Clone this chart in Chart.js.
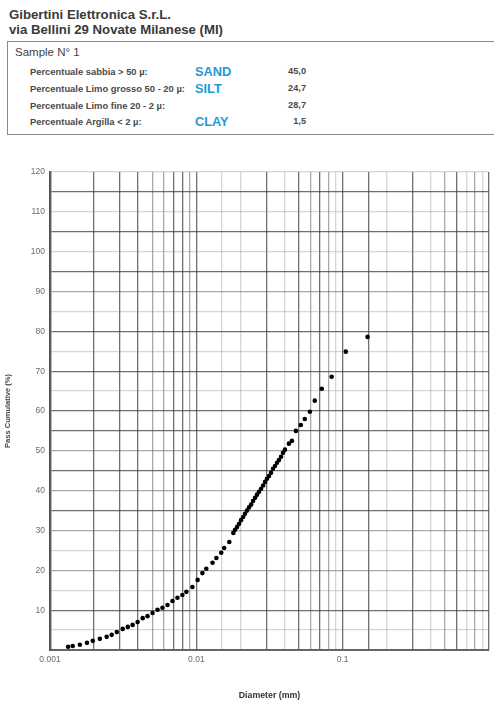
<!DOCTYPE html>
<html>
<head>
<meta charset="utf-8">
<script src="https://cdn.jsdelivr.net/npm/chart.js@4.4.1/dist/chart.umd.min.js"></script>
<style>
  html, body { margin:0; padding:0; background:#fff; }
  body { width:494px; height:703px; position:relative; overflow:hidden; font-family:"Liberation Sans", Arial, sans-serif; }
  .t { position:absolute; white-space:nowrap; color:#333; line-height:1; }
  #box { position:absolute; left:7px; top:41px; width:495px; height:94px; border:1.5px solid #8a8a8a; box-sizing:border-box; }
  #wrap { position:absolute; left:0; top:160px; width:494px; height:543px; }
</style>
</head>
<body>
<div class="t" style="left:9px;top:8px;font-size:13.2px;font-weight:bold;color:#3a3a3a;">Gibertini Elettronica S.r.L.</div>
<div class="t" style="left:9px;top:23px;font-size:13.2px;font-weight:bold;color:#3a3a3a;">via Bellini 29 Novate Milanese (MI)</div>
<div id="box"></div>
<div class="t" style="left:15px;top:47px;font-size:11.5px;color:#444;">Sample N° 1</div>
<div id="rows"></div>
<div id="wrap"><canvas id="c" width="494" height="543"></canvas></div>
<script>
// ---- table data ----
const rowLabels = ["Percentuale sabbia > 50 µ:", "Percentuale Limo grosso 50 - 20 µ:", "Percentuale Limo fine 20 - 2 µ:", "Percentuale Argilla < 2 µ:"];
const rowTags = ["SAND", "SILT", "", "CLAY"];
const rowValues = ["45,0", "24,7", "28,7", "1,5"];

// ---- chart data ----
const diameters = [
  0.00133, 0.00143, 0.0016, 0.00179, 0.00196, 0.00219, 0.00244, 0.00264, 0.00286, 0.00314,
  0.0034, 0.00367, 0.00397, 0.0043, 0.00464, 0.00502, 0.00543, 0.00587, 0.00635, 0.00687,
  0.00743, 0.00803, 0.00855, 0.0094, 0.0102, 0.011, 0.0117, 0.0129, 0.0137, 0.0148,
  0.0155, 0.0168, 0.0179, 0.0184, 0.019, 0.0196, 0.0202, 0.0209, 0.0215, 0.0222,
  0.0229, 0.0237, 0.0244, 0.0252, 0.026, 0.0268, 0.0277, 0.0286, 0.0295, 0.0304,
  0.0314, 0.0324, 0.0334, 0.0345, 0.0356, 0.0367, 0.0379, 0.0391, 0.0403, 0.0429,
  0.045, 0.0479, 0.0518, 0.0551, 0.0597, 0.0645, 0.072, 0.0841, 0.105, 0.148
];
const passing = [
  0.8, 1.0, 1.3, 1.8, 2.3, 2.8, 3.3, 3.8, 4.5, 5.3,
  5.8, 6.3, 7.0, 8.0, 8.5, 9.3, 10.1, 10.6, 11.3, 12.3,
  13.1, 13.8, 14.6, 15.8, 17.6, 19.3, 20.4, 21.9, 23.1, 24.4,
  25.6, 27.1, 29.4, 30.2, 30.9, 31.7, 32.6, 33.4, 34.2, 35.0,
  35.8, 36.5, 37.4, 38.2, 39.0, 39.7, 40.5, 41.3, 42.2, 43.0,
  43.7, 44.5, 45.5, 46.2, 47.0, 47.7, 48.5, 49.5, 50.3, 51.8,
  52.5, 55.0, 56.5, 58.0, 59.8, 62.6, 65.6, 68.6, 74.9, 78.6
];
const xTickLabels = ["0.001", "0.01", "0.1"];
const yTickLabels = ["10","20","30","40","50","60","70","80","90","100","110","120"];
const xTitle = "Diameter (mm)";
const yTitle = "Pass Cumulative (%)";

// ---- table rows ----
const rowsEl = document.getElementById('rows');
const rowMid = [72, 89, 106, 122];
rowLabels.forEach((lab, i) => {
  const a = document.createElement('div');
  a.className = 't';
  a.style.cssText = `left:30px;top:${rowMid[i]-4.7}px;font-size:9.4px;font-weight:bold;color:#4a4a4a;`;
  a.textContent = lab;
  rowsEl.appendChild(a);
  if (rowTags[i]) {
    const b = document.createElement('div');
    b.className = 't';
    b.style.cssText = `left:195px;top:${rowMid[i]-6.5}px;font-size:12.8px;font-weight:bold;color:#1e9ad6;`;
    b.textContent = rowTags[i];
    rowsEl.appendChild(b);
  }
  const c = document.createElement('div');
  c.className = 't';
  c.style.cssText = `left:266px;width:40px;text-align:right;top:${rowMid[i]-4.7}px;font-size:9.2px;font-weight:bold;color:#4a4a4a;`;
  c.textContent = rowValues[i];
  rowsEl.appendChild(c);
});

// ---- gridline shading (style only) ----
const DARK = 'rgba(70,70,70,0.78)', MED = 'rgba(90,90,90,0.52)', LIGHT = 'rgba(120,120,120,0.3)';
const yShade = {5:LIGHT,10:DARK,15:LIGHT,20:MED,25:LIGHT,30:MED,35:DARK,40:MED,45:DARK,50:MED,55:DARK,60:DARK,65:LIGHT,70:DARK,75:LIGHT,80:DARK,85:LIGHT,90:MED,95:DARK,100:LIGHT,105:DARK,110:LIGHT,115:DARK,120:LIGHT};
const xShadeByDecade = [
  {1:DARK,2:DARK,3:DARK,4:DARK,5:MED,6:MED,7:DARK,8:DARK,9:MED},
  {1:DARK,2:LIGHT,3:DARK,4:LIGHT,5:DARK,6:MED,7:DARK,8:MED,9:LIGHT},
  {1:DARK,2:LIGHT,3:DARK,4:LIGHT,5:MED,6:DARK,7:LIGHT,8:MED,9:LIGHT},
  {1:DARK}
];
function xShade(v) {
  const e = Math.floor(Math.log10(v) + 1e-9);
  const m = Math.round(v / Math.pow(10, e));
  const d = xShadeByDecade[e + 3] || {};
  return d[m] || MED;
}

const pts = diameters.map((d, i) => ({x: d, y: passing[i]}));

new Chart(document.getElementById('c'), {
  type: 'scatter',
  data: { datasets: [{ data: pts, backgroundColor: '#000', borderColor: '#000', pointRadius: 2.3, pointBorderWidth: 0, pointHoverRadius: 2.3 }] },
  options: {
    responsive: false,
    animation: false,
    events: [],
    layout: { padding: { top: 12, right: 0, left: 0, bottom: 0 } },
    plugins: { legend: { display: false }, tooltip: { enabled: false } },
    scales: {
      x: {
        type: 'logarithmic', min: 0.001, max: 1,
        afterFit: s => { s.height = 53; },
        border: { display: true, color: 'rgba(70,70,70,0.8)', width: 2 },
        grid: { drawTicks: false, lineWidth: 1.3, color: c => xShade(c.tick.value) },
        ticks: {
          autoSkip: false, maxRotation: 0, padding: 5, color: '#6a6a78',
          font: { family: 'Liberation Sans', size: 8.5 },
          callback: function (v) {
            const l = Math.log10(v);
            if (Math.abs(l - Math.round(l)) > 1e-6) return '';
            const idx = Math.round(l) + 3;
            return xTickLabels[idx] !== undefined ? xTickLabels[idx] : '';
          }
        },
        title: { display: true, text: xTitle, color: '#333', font: { family: 'Liberation Sans', size: 8.8, weight: 'bold' }, padding: { top: 0, bottom: 2 } }
      },
      y: {
        type: 'linear', min: 0, max: 120,
        afterFit: s => { s.width = 50; },
        border: { display: true, color: 'rgba(70,70,70,0.8)', width: 2.5 },
        grid: { drawTicks: false, lineWidth: 1.3, color: c => yShade[c.tick.value] || LIGHT },
        ticks: {
          stepSize: 5, padding: 5, color: '#6a6a78',
          font: { family: 'Liberation Sans', size: 8.5 },
          callback: function (v) {
            if (v % 10 !== 0 || v === 0) return '';
            return yTickLabels[v / 10 - 1];
          }
        },
        title: { display: true, text: yTitle, color: '#444', font: { family: 'Liberation Sans', size: 7.5, weight: 'bold' }, padding: { top: 3, bottom: 0 } }
      }
    }
  }
});
</script>
</body>
</html>
